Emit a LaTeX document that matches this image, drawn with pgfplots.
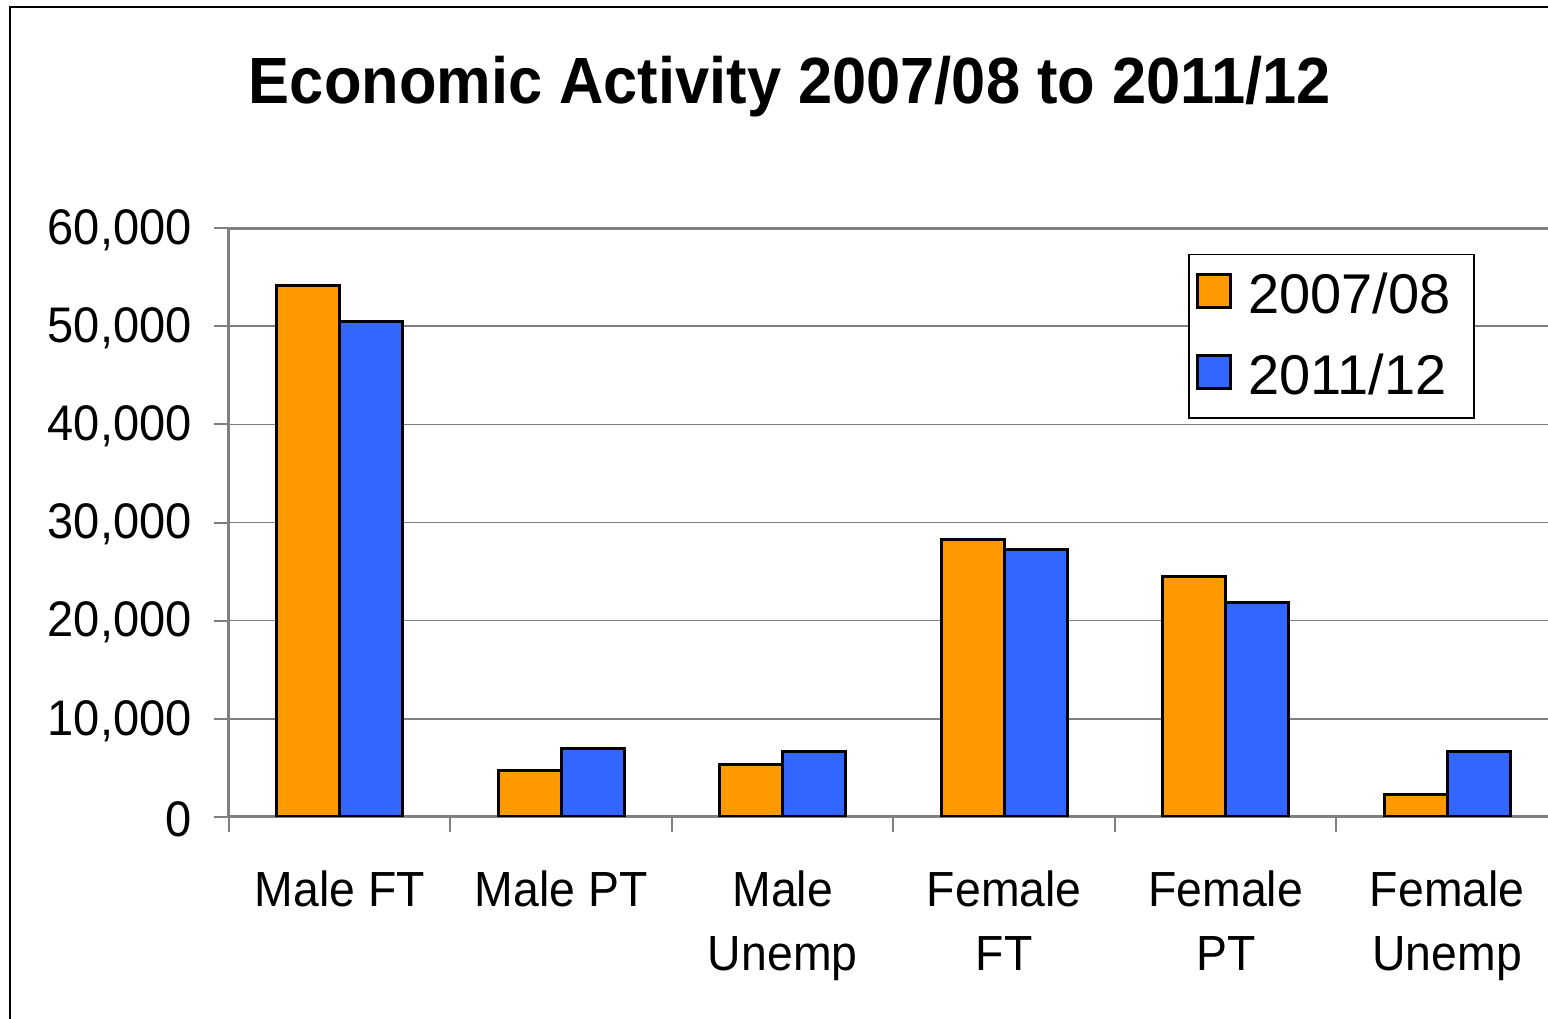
\documentclass[border=0pt]{standalone}
\usepackage{pgfplots}
\pgfplotsset{compat=1.18}
\usepackage{fontspec}
\setmainfont{Liberation Sans}[FakeStretch=0.94]
\newfontfamily\legendfont{Liberation Sans}
\definecolor{barorange}{HTML}{FF9900}
\definecolor{barblue}{HTML}{3366FF}
\definecolor{axisgray}{HTML}{808080}

\pgfplotstableread{
idx y0708 y1112
0 54100 50500
1 4700 7000
2 5300 6700
3 28300 27200
4 24500 21900
5 2300 6700
}\econ

\begin{document}
\begin{tikzpicture}[x=0.3pt,y=0.3pt]
\useasboundingbox (0,0) rectangle (1548,1019);
\clip (0,0) rectangle (1548,1019);
% outer chart frame (right and bottom edges fall outside the picture)
\draw[line width=0.5pt] (10,-5) -- (10,1012) -- (1560,1012);
\node[font=\bfseries\fontsize{19.6}{22}\selectfont, anchor=base] at (790,915)
  {Economic Activity 2007/08 to 2011/12};
\begin{axis}[
  at={(68.7pt,60.6pt)}, anchor=south west,
  scale only axis,
  width=398.7pt, height=176.7pt,
  xmin=-0.5, xmax=5.5,
  ymin=0, ymax=60000,
  ybar=0pt, bar width=0.285,
  axis lines=box,
  axis line style={axisgray, line width=0.9pt},
  tick pos=left, tick align=outside,
  major tick length=4.5pt,
  tick style={axisgray, line width=0.6pt},
  xtick={-0.5,0.5,1.5,2.5,3.5,4.5,5.5},
  x tick label as interval=true,
  xticklabels={Male FT, Male PT, {Male\\Unemp}, {Female\\FT}, {Female\\PT}, {Female\\Unemp}},
  xticklabel style={align=center, font=\fontsize{14.8}{19.2}\selectfont, yshift=-8pt},
  ytick={0,10000,...,60000},
  scaled y ticks=false,
  yticklabel style={font=\fontsize{15}{18}\selectfont, xshift=-3.2pt, yshift=-0.6pt},
  /pgf/number format/.cd, fixed, 1000 sep={,}, assume math mode=true,
  /pgfplots/.cd,
  ymajorgrids=true,
  grid style={axisgray, line width=0.45pt},
  legend cell align=left,
  legend style={at={(0.9374,0.9559)}, anchor=north east,
    draw=black, line width=0.4pt,
    font=\legendfont\fontsize{16.8}{19}\selectfont,
    inner xsep=2pt, inner ysep=3.6pt, row sep=6.5pt,
    nodes={inner xsep=5pt}},
  legend image code/.code={\draw[#1, line width=0.9pt] (2pt,-3.5pt) rectangle (11.9pt,6.4pt);},
]
\addplot[draw=black, line width=0.9pt, fill=barorange] table[x=idx, y=y0708] {\econ};
\addlegendentry{2007/08}
\addplot[draw=black, line width=0.9pt, fill=barblue] table[x=idx, y=y1112] {\econ};
\addlegendentry{2011/12}
\end{axis}
\end{tikzpicture}
\end{document}
